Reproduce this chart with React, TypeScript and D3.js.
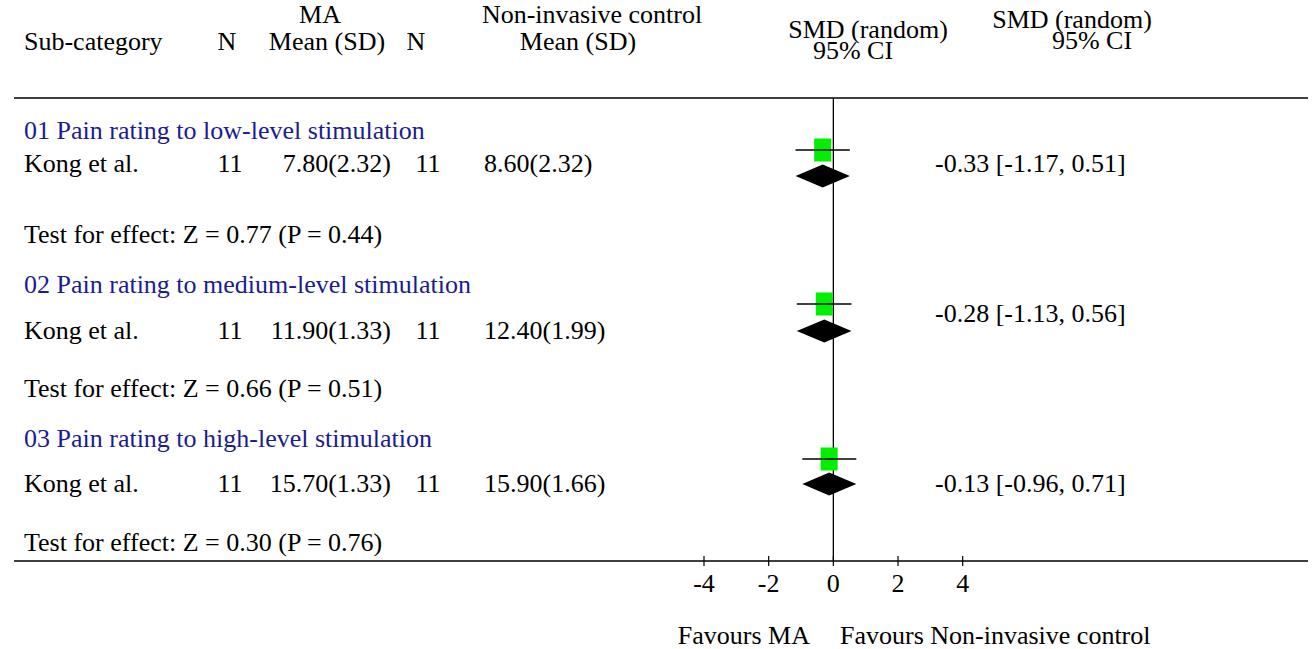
import React from 'react';
import * as d3 from 'd3';

// sub-groups and study rows
const subgroups = [
  '01 Pain rating to low-level stimulation',
  '02 Pain rating to medium-level stimulation',
  '03 Pain rating to high-level stimulation',
];
const studies = ['Kong et al.', 'Kong et al.', 'Kong et al.'];
const maN = [11, 11, 11];
const maMeanSD = ['7.80(2.32)', '11.90(1.33)', '15.70(1.33)'];
const ctrlN = [11, 11, 11];
const ctrlMeanSD = ['8.60(2.32)', '12.40(1.99)', '15.90(1.66)'];
const smd = [-0.33, -0.28, -0.13];
const ciLow = [-1.17, -1.13, -0.96];
const ciHigh = [0.51, 0.56, 0.71];
const zValues = ['0.77', '0.66', '0.30'];
const pValues = ['0.44', '0.51', '0.76'];
const xTicks = [-4, -2, 0, 2, 4];

const W = 1316;
const H = 649;
const FONT = '"Liberation Serif", "Times New Roman", serif';
const FS = 26;

// vertical offsets inside each group (the source plot is a bit irregular)
const rowOffset = [33, 46, 45];
const labelOffset = [33, 29, 45];

export default function App() {
  const x = d3.scaleLinear().domain([-4, 4]).range([704, 962.7]);
  // group heading baseline
  const gy = d3.scaleLinear().domain([0, 1]).range([139, 293]);
  const topLine = 98;
  const axisY = 561;
  const boxW = 17;
  const boxH = 23;
  const diaH = 23;

  const txt = (s: string, tx: number, ty: number, anchor = 'start', fill = '#000', fs = FS) => (
    <text x={tx} y={ty} textAnchor={anchor} fill={fill} fontFamily={FONT} fontSize={fs}>{s}</text>
  );

  return (
    <svg width={W} height={H} style={{ position: 'absolute', left: 0, top: 0, background: '#fff' }}>
      {/* header */}
      {txt('MA', 320, 23, 'middle')}
      {txt('Non-invasive control', 592, 23, 'middle')}
      {txt('Sub-category', 24, 50)}
      {txt('N', 227, 50, 'middle')}
      {txt('Mean (SD)', 327, 50, 'middle')}
      {txt('N', 416, 50, 'middle')}
      {txt('Mean (SD)', 578, 50, 'middle')}
      {txt('SMD (random)', 868, 38, 'middle')}
      {txt('95% CI', 853, 59, 'middle')}
      {txt('SMD (random)', 1072, 28, 'middle')}
      {txt('95% CI', 1092, 49, 'middle')}

      <line x1={14} x2={1308} y1={topLine} y2={topLine} stroke="#000" strokeWidth={1.5} />
      <line x1={x(0)} x2={x(0)} y1={topLine} y2={axisY} stroke="#000" strokeWidth={1.3} />

      {subgroups.map((g, i) => {
        const y0 = gy(i);
        const rowY = y0 + rowOffset[i];
        const ciY = y0 + 11 + (i === 2 ? 1 : 0);
        const diaY = y0 + 37 + (i === 1 ? 1 : 0);
        const labY = y0 + labelOffset[i];
        const diamond = d3.line()([
          [x(ciLow[i]), diaY],
          [x(smd[i]), diaY - diaH / 2],
          [x(ciHigh[i]), diaY],
          [x(smd[i]), diaY + diaH / 2],
        ]) + 'Z';
        return (
          <g key={g}>
            {txt(g, 24, y0, 'start', '#1c1c8f')}
            {txt(studies[i], 24, rowY)}
            {txt(String(maN[i]), 230, rowY, 'middle')}
            {txt(maMeanSD[i], 391, rowY, 'end')}
            {txt(String(ctrlN[i]), 428, rowY, 'middle')}
            {txt(ctrlMeanSD[i], 484, rowY)}
            {txt(`Test for effect: Z = ${zValues[i]} (P = ${pValues[i]})`, 24, y0 + 104)}
            <rect x={x(smd[i]) - boxW / 2} y={ciY - boxH / 2} width={boxW} height={boxH} fill="#00f000" />
            <line x1={x(ciLow[i])} x2={x(ciHigh[i])} y1={ciY} y2={ciY} stroke="#000" strokeWidth={1.3} />
            <path d={diamond} fill="#000" />
            {txt(`${smd[i].toFixed(2)} [${ciLow[i].toFixed(2)}, ${ciHigh[i].toFixed(2)}]`, 935, labY)}
          </g>
        );
      })}

      {/* axis */}
      <line x1={14} x2={1308} y1={axisY} y2={axisY} stroke="#000" strokeWidth={1.5} />
      {xTicks.map((t) => (
        <g key={t}>
          <line x1={x(t)} x2={x(t)} y1={axisY - 5} y2={axisY + 5} stroke="#000" strokeWidth={1.2} />
          {txt(t < 0 ? `-${Math.abs(t)}` : String(t), x(t), 592, 'middle')}
        </g>
      ))}
      {txt('Favours MA', 810, 644, 'end')}
      {txt('Favours Non-invasive control', 840, 644)}
    </svg>
  );
}
